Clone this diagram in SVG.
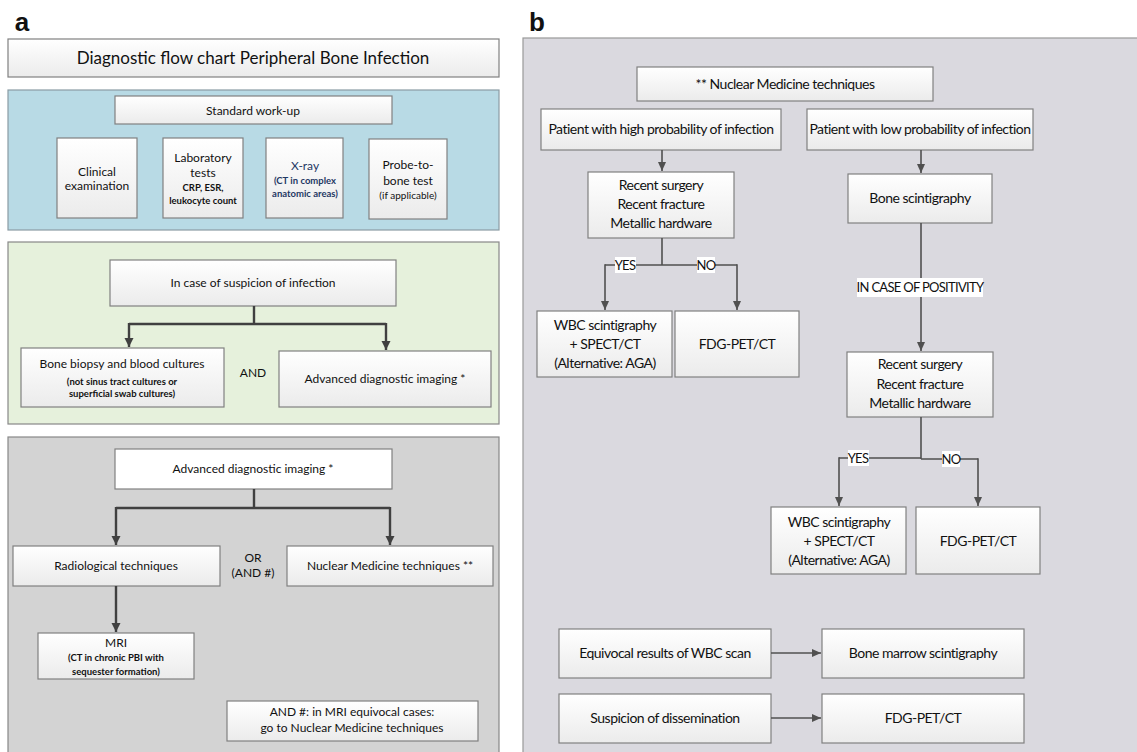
<svg xmlns="http://www.w3.org/2000/svg" width="1137" height="752" viewBox="0 0 1137 752">
<defs>
<linearGradient id="bg" x1="0" y1="0" x2="0" y2="1">
<stop offset="0" stop-color="#ffffff"/><stop offset="1" stop-color="#ebebeb"/>
</linearGradient>
<marker id="ah" markerUnits="userSpaceOnUse" markerWidth="10" markerHeight="10" refX="9" refY="5" orient="auto">
<path d="M0,0.5 L9,5 L0,9.5 z" fill="#404040"/>
</marker>
<marker id="ab" markerUnits="userSpaceOnUse" markerWidth="10" markerHeight="10" refX="9" refY="4" orient="auto">
<path d="M0,0 L9,4 L0,8 z" fill="#505050"/>
</marker>
<style>
.box{fill:url(#bg);stroke:#808080;stroke-width:1.2}
.t{font-family:Lato,"Noto Sans","Liberation Sans",sans-serif;fill:#111;text-anchor:middle}
.a12{font-size:12px}
.a10{font-size:9.5px;font-weight:bold}
.b15{font-size:14px;letter-spacing:-0.5px}
.lb{font-size:13px;letter-spacing:-0.7px}
.ca{fill:none;stroke:#404040;stroke-width:2.4}
.cb{fill:none;stroke:#505050;stroke-width:1.6}
</style>
</defs>
<rect width="1137" height="752" fill="#ffffff"/>

<!-- Panel a -->
<g id="label-a"><text class="t" x="22" y="31" style="font-size:26px;font-weight:bold;font-family:'Liberation Sans',sans-serif">a</text></g>
<g id="title"><rect class="box" x="8" y="39" width="491" height="38"/><text class="t" x="253" y="64" style="font-size:17px">Diagnostic flow chart Peripheral Bone Infection</text></g>
<rect id="panel-blue" x="8" y="90" width="491" height="140" fill="#b8dae5" stroke="#8a9ca4" stroke-width="1.2"/>
<g id="std"><rect class="box" x="115" y="96" width="277" height="28"/><text class="t a12" x="253" y="115">Standard work-up</text></g>
<g id="clinical"><rect class="box" x="57" y="138" width="80" height="80"/><text class="t a12" x="97" y="176">Clinical</text><text class="t a12" x="97" y="190">examination</text></g>
<g id="lab"><rect class="box" x="163" y="138" width="80" height="80"/><text class="t a12" x="203" y="162">Laboratory</text><text class="t a12" x="203" y="177">tests</text><text class="t a10" x="203" y="191">CRP, ESR,</text><text class="t a10" x="203" y="204">leukocyte count</text></g>
<g id="xray"><rect class="box" x="266" y="138" width="77" height="80"/><text class="t a12" x="305" y="170" style="fill:#1f3864">X-ray</text><text class="t a10" x="305" y="184" style="fill:#1f3864">(CT in complex</text><text class="t a10" x="305" y="197" style="fill:#1f3864">anatomic areas)</text></g>
<g id="probe"><rect class="box" x="369" y="139" width="78" height="80"/><text class="t a12" x="408" y="169">Probe-to-</text><text class="t a12" x="408" y="185">bone test</text><text class="t" x="408" y="199" style="font-size:10px">(if applicable)</text></g>

<rect id="panel-green" x="8" y="242" width="491" height="182" fill="#e6f1dc" stroke="#888" stroke-width="1.2"/>
<g id="suspicion"><rect class="box" x="110" y="260" width="286" height="46"/><text class="t a12" x="253" y="287">In case of suspicion of infection</text></g>
<g id="biopsy"><rect class="box" x="21" y="348" width="203" height="59"/><text class="t a12" x="122" y="368">Bone biopsy and blood cultures</text><text class="t a10" x="122" y="385">(not sinus tract cultures or</text><text class="t a10" x="122" y="397">superficial swab cultures)</text></g>
<g id="and"><text class="t a12" x="253" y="377">AND</text></g>
<g id="adv1"><rect class="box" x="279" y="351" width="212" height="56"/><text class="t a12" x="385" y="383">Advanced diagnostic imaging *</text></g>

<rect id="panel-gray" x="8" y="437" width="491" height="320" fill="#d3d3d3" stroke="#888" stroke-width="1.2"/>
<g id="adv2"><rect class="box" x="115" y="449" width="277" height="40" style="fill:#fff"/><text class="t a12" x="253" y="473">Advanced diagnostic imaging *</text></g>
<g id="radio"><rect class="box" x="13" y="546" width="207" height="40"/><text class="t a12" x="116" y="570">Radiological techniques</text></g>
<g id="or"><text class="t a12" x="253" y="562">OR</text><text class="t a12" x="253" y="577">(AND #)</text></g>
<g id="nucA"><rect class="box" x="287" y="546" width="206" height="40"/><text class="t a12" x="390" y="570">Nuclear Medicine techniques **</text></g>
<g id="mri"><rect class="box" x="38" y="633" width="156" height="46"/><text class="t a12" x="116" y="647">MRI</text><text class="t a10" x="116" y="661">(CT in chronic PBI with</text><text class="t a10" x="116" y="675">sequester formation)</text></g>
<g id="note"><rect class="box" x="227" y="701" width="251" height="40"/><text class="t a12" x="352" y="716">AND #: in MRI equivocal cases:</text><text class="t a12" x="352" y="732">go to Nuclear Medicine techniques</text></g>

<!-- Panel b -->
<g id="label-b"><text class="t" x="537" y="31" style="font-size:26px;font-weight:bold;font-family:'Liberation Sans',sans-serif">b</text></g>
<rect id="panel-b" x="523" y="38" width="620" height="720" fill="#dad9df" stroke="#999" stroke-width="1.2"/>
<g id="nucB"><rect class="box" x="637" y="67" width="296" height="34"/><text class="t b15" x="785" y="89">** Nuclear Medicine techniques</text></g>
<g id="high"><rect class="box" x="541" y="109" width="240" height="41"/><text class="t b15" x="661" y="134">Patient with high probability of infection</text></g>
<g id="low"><rect class="box" x="807" y="109" width="226" height="41"/><text class="t b15" x="920" y="134">Patient with low probability of infection</text></g>
<g id="recent1"><rect class="box" x="588" y="172" width="146" height="66"/><text class="t b15" x="661" y="190">Recent surgery</text><text class="t b15" x="661" y="209">Recent fracture</text><text class="t b15" x="661" y="228">Metallic hardware</text></g>
<g id="bonescint"><rect class="box" x="848" y="174" width="144" height="49"/><text class="t b15" x="920" y="203">Bone scintigraphy</text></g>
<g id="wbc1"><rect class="box" x="537" y="311" width="135" height="66"/><text class="t b15" x="605" y="330">WBC scintigraphy</text><text class="t b15" x="605" y="349">+ SPECT/CT</text><text class="t b15" x="605" y="368">(Alternative: AGA)</text></g>
<g id="fdg1"><rect class="box" x="675" y="311" width="124" height="66"/><text class="t b15" x="737" y="349">FDG-PET/CT</text></g>
<g id="recent2"><rect class="box" x="847" y="352" width="146" height="65"/><text class="t b15" x="920" y="369">Recent surgery</text><text class="t b15" x="920" y="389">Recent fracture</text><text class="t b15" x="920" y="408">Metallic hardware</text></g>
<g id="wbc2"><rect class="box" x="771" y="507" width="135" height="67"/><text class="t b15" x="839" y="527">WBC scintigraphy</text><text class="t b15" x="839" y="546">+ SPECT/CT</text><text class="t b15" x="839" y="565">(Alternative: AGA)</text></g>
<g id="fdg2"><rect class="box" x="916" y="507" width="124" height="67"/><text class="t b15" x="978" y="546">FDG-PET/CT</text></g>
<g id="equiv"><rect class="box" x="559" y="629" width="212" height="49"/><text class="t b15" x="665" y="658">Equivocal results of WBC scan</text></g>
<g id="marrow"><rect class="box" x="822" y="629" width="202" height="49"/><text class="t b15" x="923" y="658">Bone marrow scintigraphy</text></g>
<g id="dissem"><rect class="box" x="559" y="694" width="212" height="49"/><text class="t b15" x="665" y="723">Suspicion of dissemination</text></g>
<g id="fdg3"><rect class="box" x="822" y="694" width="202" height="49"/><text class="t b15" x="923" y="723">FDG-PET/CT</text></g>

<!-- Connectors -->
<g id="connectors">
<path class="ca" d="M254,306 V324 M129,324 H386"/>
<path class="ca" d="M129,323 V347" marker-end="url(#ah)"/>
<path class="ca" d="M386,323 V350" marker-end="url(#ah)"/>
<path class="ca" d="M254,489 V508 M116,508 H390"/>
<path class="ca" d="M116,507 V545" marker-end="url(#ah)"/>
<path class="ca" d="M390,507 V545" marker-end="url(#ah)"/>
<path class="ca" d="M116,586 V632" marker-end="url(#ah)"/>

<path class="cb" d="M662,150 V171" marker-end="url(#ab)"/>
<path class="cb" d="M921,150 V173" marker-end="url(#ab)"/>
<path class="cb" d="M662,238 V265 M605,265 H737"/>
<path class="cb" d="M605,264.2 V310" marker-end="url(#ab)"/>
<path class="cb" d="M737,264.2 V310" marker-end="url(#ab)"/>
<path class="cb" d="M921,223 V351" marker-end="url(#ab)"/>
<path class="cb" d="M921,417 V459 M839,458 H921 M921,459 H978"/>
<path class="cb" d="M839,457.2 V506" marker-end="url(#ab)"/>
<path class="cb" d="M978,458.2 V506" marker-end="url(#ab)"/>
<path class="cb" d="M771,653 H821" marker-end="url(#ab)"/>
<path class="cb" d="M771,718 H821" marker-end="url(#ab)"/>

<rect x="857" y="278" width="126" height="19" fill="#ffffff"/>
<text class="t lb" x="920" y="292">IN CASE OF POSITIVITY</text>
<rect x="615" y="257" width="21" height="16" fill="#ffffff"/>
<text class="t lb" x="625" y="270">YES</text>
<rect x="697" y="257" width="18" height="16" fill="#ffffff"/>
<text class="t lb" x="706" y="270">NO</text>
<rect x="848" y="450" width="21" height="16" fill="#ffffff"/>
<text class="t lb" x="858" y="463">YES</text>
<rect x="942" y="451" width="18" height="16" fill="#ffffff"/>
<text class="t lb" x="951" y="464">NO</text>
</g>
</svg>
